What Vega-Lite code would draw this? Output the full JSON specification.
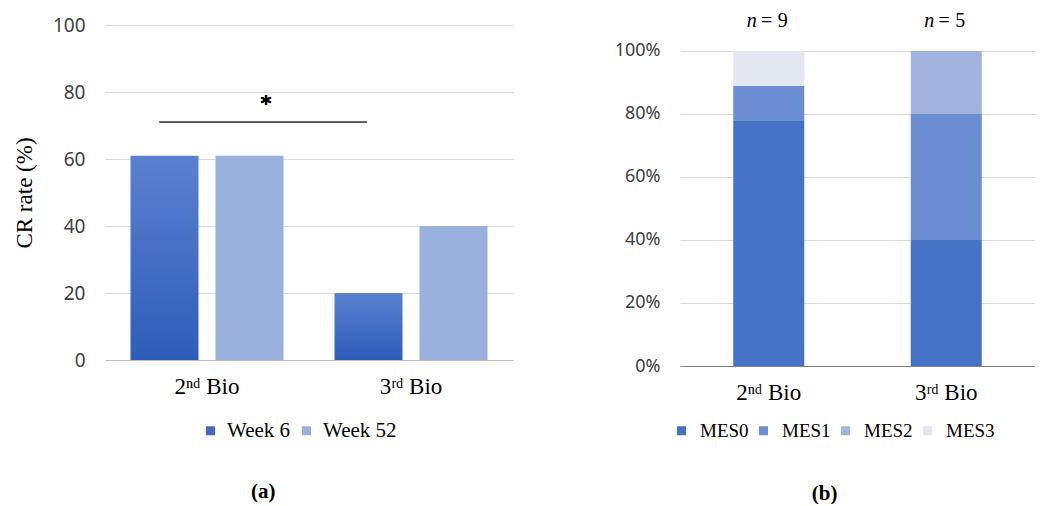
{
  "$schema": "https://vega.github.io/schema/vega-lite/v6.json",
  "background": "white",
  "padding": {"left": 13, "top": 10, "right": 0, "bottom": 0},
  "spacing": 101,
  "resolve": {"scale": {"fill": "independent"}, "legend": {"fill": "independent"}},
  "config": {
    "view": {"stroke": null},
    "font": "Liberation Serif",
    "axis": {
      "grid": false,
      "ticks": false,
      "labelColor": "#404040",
      "titleColor": "#000000",
      "titleFontWeight": "normal"
    },
    "axisY": {
      "grid": true,
      "gridColor": "#d9d9d9",
      "gridWidth": 1,
      "domain": false,
      "labelFont": "Noto Sans",
      "labelFontSize": 19,
      "labelPadding": 20
    },
    "axisX": {
      "domainColor": "#bfbfbf",
      "labelFont": "Liberation Serif",
      "labelFontSize": 23,
      "labelColor": "#000000",
      "labelPadding": 15,
      "labelAngle": 0
    },
    "legend": {
      "orient": "none",
      "direction": "horizontal",
      "title": null,
      "symbolType": "square",
      "symbolSize": 81,
      "symbolStrokeWidth": 0,
      "labelFont": "Liberation Serif",
      "labelFontSize": 21,
      "labelColor": "#000000"
    },
    "title": {
      "orient": "bottom",
      "frame": "bounds",
      "anchor": "middle",
      "font": "Liberation Serif",
      "fontSize": 21,
      "fontWeight": "bold",
      "color": "#000000"
    }
  },
  "hconcat": [
    {
      "width": 408,
      "height": 335,
      "title": {"text": "(a)", "offset": 40},
      "data": {
        "values": [
          {"bio": "2ⁿᵈ Bio", "week": "Week 6", "rate": 61},
          {"bio": "2ⁿᵈ Bio", "week": "Week 52", "rate": 61},
          {"bio": "3ʳᵈ Bio", "week": "Week 6", "rate": 20},
          {"bio": "3ʳᵈ Bio", "week": "Week 52", "rate": 40}
        ]
      },
      "layer": [
        {
          "mark": {"type": "bar"},
          "encoding": {
            "x": {
              "field": "bio",
              "type": "nominal",
              "title": null,
              "scale": {"paddingInner": 0, "paddingOuter": 0}
            },
            "xOffset": {
              "field": "week",
              "type": "nominal",
              "sort": ["Week 6", "Week 52"],
              "scale": {"paddingInner": 0.2, "paddingOuter": 0.3}
            },
            "y": {
              "field": "rate",
              "type": "quantitative",
              "title": "CR rate (%)",
              "scale": {"domain": [0, 100]},
              "axis": {
                "values": [0, 20, 40, 60, 80, 100],
                "titleFont": "Liberation Serif",
                "titleFontSize": 23,
                "titlePadding": 16
              }
            },
            "fill": {
              "field": "week",
              "type": "nominal",
              "scale": {"domain": ["Week 6", "Week 52"], "range": ["#3f69c3", "#99afdc"]},
              "legend": {"legendX": 95, "legendY": 395, "columnPadding": 5, "labelOffset": 6},
              "condition": {
                "test": "datum.week === 'Week 6'",
                "value": {
                  "gradient": "linear",
                  "x1": 0, "y1": 0, "x2": 0, "y2": 1,
                  "stops": [
                    {"offset": 0, "color": "#5b80d0"},
                    {"offset": 1, "color": "#2e5db9"}
                  ]
                }
              }
            }
          }
        },
        {
          "mark": {"type": "rule", "color": "#595959", "strokeWidth": 1.5, "xOffset": -47.5, "x2Offset": -44.5},
          "encoding": {
            "x": {"datum": "2ⁿᵈ Bio"},
            "x2": {"datum": "3ʳᵈ Bio"},
            "y": {"datum": 71}
          }
        },
        {
          "mark": {"type": "text", "text": "*", "font": "DejaVu Sans", "fontSize": 21, "fontWeight": "bold", "color": "#000000", "dx": 59, "baseline": "middle"},
          "encoding": {
            "x": {"datum": "2ⁿᵈ Bio"},
            "y": {"datum": 76}
          }
        }
      ]
    },
    {
      "width": 355,
      "height": 341,
      "title": {"text": "(b)", "offset": 42},
      "layer": [
        {
          "data": {
            "values": [
              {"bio": "2ⁿᵈ Bio", "mes": "MES0", "count": 7},
              {"bio": "2ⁿᵈ Bio", "mes": "MES1", "count": 1},
              {"bio": "2ⁿᵈ Bio", "mes": "MES2", "count": 0},
              {"bio": "2ⁿᵈ Bio", "mes": "MES3", "count": 1},
              {"bio": "3ʳᵈ Bio", "mes": "MES0", "count": 2},
              {"bio": "3ʳᵈ Bio", "mes": "MES1", "count": 2},
              {"bio": "3ʳᵈ Bio", "mes": "MES2", "count": 1},
              {"bio": "3ʳᵈ Bio", "mes": "MES3", "count": 0}
            ]
          },
          "mark": {"type": "bar", "width": {"band": 0.4}},
          "encoding": {
            "x": {
              "field": "bio",
              "type": "nominal",
              "title": null,
              "scale": {"paddingInner": 0, "paddingOuter": 0},
              "axis": {"domainColor": "#7f7f7f"}
            },
            "y": {
              "field": "count",
              "type": "quantitative",
              "stack": "normalize",
              "title": null,
              "scale": {"domain": [0, 1.0825], "nice": false},
              "axis": {"format": ".0%", "values": [0, 0.2, 0.4, 0.6, 0.8, 1], "labelFontSize": 18}
            },
            "fill": {
              "field": "mes",
              "type": "nominal",
              "scale": {
                "domain": ["MES0", "MES1", "MES2", "MES3"],
                "range": ["#4472c4", "#6b8ed2", "#a0b4df", "#e2e7f0"]
              },
              "legend": {"legendX": -8, "legendY": 396, "columnPadding": 5, "labelOffset": 9, "labelFontSize": 19}
            },
            "order": {"field": "mes", "sort": "ascending"}
          }
        },
        {
          "data": {"values": [{"bio": "2ⁿᵈ Bio", "n": 9}, {"bio": "3ʳᵈ Bio", "n": 5}]},
          "layer": [
            {
              "mark": {"type": "text", "text": "n", "fontStyle": "italic", "fontSize": 20, "align": "right", "baseline": "middle", "dx": -12, "dy": -30, "color": "#000000"},
              "encoding": {"x": {"field": "bio", "type": "nominal"}, "y": {"datum": 1}}
            },
            {
              "mark": {"type": "text", "text": "=", "fontSize": 20, "align": "center", "baseline": "middle", "dx": -2, "dy": -30, "color": "#000000"},
              "encoding": {"x": {"field": "bio", "type": "nominal"}, "y": {"datum": 1}}
            },
            {
              "mark": {"type": "text", "fontSize": 20, "align": "left", "baseline": "middle", "dx": 9, "dy": -30, "color": "#000000"},
              "encoding": {"x": {"field": "bio", "type": "nominal"}, "y": {"datum": 1}, "text": {"field": "n", "type": "quantitative"}}
            }
          ]
        }
      ]
    }
  ]
}
